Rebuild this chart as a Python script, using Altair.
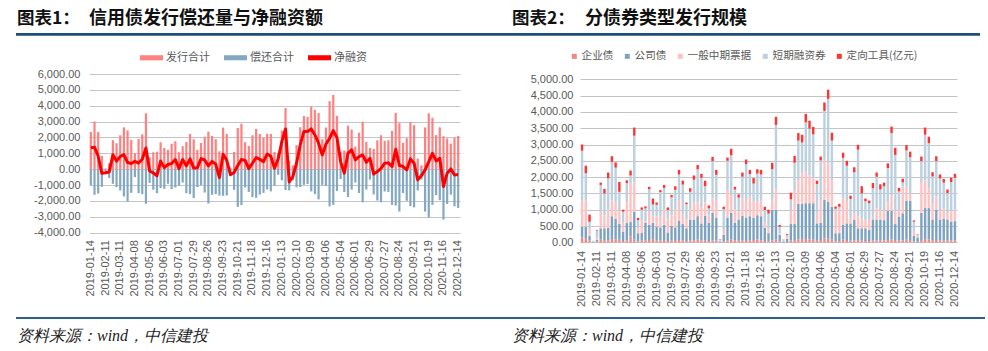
import altair as alt
import pandas as pd

# ---------------- data ----------------
dates = pd.date_range("2019-01-14", periods=101, freq="7D").strftime("%Y-%m-%d").tolist()
tick_labels = dates[::4]

left_series = ["发行合计", "偿还合计", "净融资"]
left_colors = ["#FF8080", "#84A8C2", "#FF0000"]

issuance = [
    2350, 3000, 2350, 850, 50, 380, 1830, 1640, 2140, 2640,
    2450, 1850, 1000, 1900, 2200, 3520, 750, 1070, 1100, 1700,
    1340, 1220, 1600, 1760, 1070, 1450, 1720, 2220, 1890, 1220,
    1660, 2050, 2370, 2100, 1890, 1130, 2620, 2220, 100, 1090,
    2600, 2870, 1700, 1470, 2140, 2540, 2220, 1970, 2240, 2220,
    1090, 1000, 2440, 3850, 530, 250, 1520, 2650, 3350, 3300,
    3940, 3730, 3540, 1890, 2630, 4290, 4680, 3360, 1100, 1180,
    2750, 2500, 1430, 2300, 2990, 1720, 1340, 1280, 1820, 2140,
    1780, 1830, 2420, 3550, 2900, 1670, 1950, 2980, 2780, 670,
    250, 2630, 3520, 3240, 2150, 2640, 2080, 1940, 1620, 1980,
    2100,
]
repayment = [
    -1000, -1610, -1530, -1110, -270, -550, -920, -1130, -1340, -1720,
    -2030, -1490, -500, -1510, -1570, -2180, -860, -1300, -1510, -1190,
    -1240, -920, -1240, -1150, -1030, -840, -1510, -1570, -1820, -1130,
    -990, -1470, -2160, -1610, -1570, -1660, -1680, -1660, -440, -1300,
    -2370, -2260, -1150, -1430, -1760, -1800, -1600, -1490, -1280, -1400,
    -1030, -350, -700, -1310, -1330, -710, -1140, -1120, -980, -930,
    -1400, -1570, -1900, -990, -1060, -2340, -2250, -1370, -620, -1430,
    -1750, -1280, -840, -1500, -2090, -1280, -650, -1590, -1970, -2080,
    -1400, -1430, -2250, -2290, -2670, -1500, -1990, -2330, -2400, -1340,
    -650, -2670, -3040, -2240, -1630, -1950, -3170, -2190, -1600, -2340,
    -2440,
]
net_financing = [
    1350, 1390, 820, -260, -220, -170, 910, 510, 800, 920,
    420, 360, 500, 390, 630, 1340, -110, -230, -410, 510,
    100, 300, 360, 610, 40, 610, 210, 650, 70, 90,
    670, 580, 210, 490, 320, -530, 940, 560, -340, -210,
    230, 610, 550, 40, 380, 740, 620, 480, 960, 820,
    60, 650, 1740, 2540, -800, -460, 380, 1530, 2370, 2370,
    2540, 2160, 1640, 900, 1570, 1950, 2430, 1990, 480, -250,
    1000, 1220, 590, 800, 900, 440, 690, -310, -150, 60,
    380, 400, 170, 1260, 230, 170, -40, 650, 380, -670,
    -400, -40, 480, 1000, 520, 690, -1090, -250, 20, -360,
    -340,
]

right_types = ["企业债", "公司债", "一般中期票据", "短期融资券", "定向工具(亿元)"]
right_colors = ["#F08784", "#7EA3C0", "#FFC2C2", "#BCD0DF", "#FF3333"]

enterprise_bond = [
    150, 110, 60, 0, 20, 80, 70, 60, 100, 90,
    80, 40, 60, 180, 80, 20, 60, 60, 70, 100,
    50, 60, 70, 40, 50, 70, 70, 60, 40, 60,
    60, 80, 60, 50, 40, 60, 60, 0, 20, 60,
    90, 60, 50, 60, 70, 60, 70, 90, 60, 40,
    30, 60, 80, 20, 0, 10, 60, 70, 90, 100,
    100, 90, 80, 50, 70, 120, 110, 80, 30, 40,
    80, 70, 50, 60, 70, 50, 40, 40, 60, 60,
    50, 60, 70, 90, 70, 50, 60, 80, 70, 20,
    10, 70, 100, 90, 60, 70, 60, 50, 50, 60,
    60,
]
company_bond = [
    330, 370, 140, 20, 60, 350, 360, 380, 700, 630,
    490, 290, 530, 440, 850, 260, 230, 540, 470, 500,
    430, 400, 470, 260, 450, 390, 600, 500, 390, 640,
    640, 720, 520, 770, 560, 840, 700, 30, 210, 700,
    820, 540, 650, 760, 690, 740, 690, 740, 740, 410,
    250, 940, 920, 210, 30, 100, 500, 490, 1090, 1080,
    1100, 1110, 1120, 530, 530, 1180, 1140, 1010, 250, 240,
    450, 510, 530, 630, 360, 380, 390, 340, 640, 640,
    650, 620, 900, 880, 490, 740, 830, 1200, 1210, 180,
    140, 830, 950, 960, 640, 930, 640, 680, 650, 580,
    590,
]
general_mtn = [
    820, 790, 200, 10, 60, 550, 400, 560, 480, 520,
    390, 270, 640, 1180, 900, 160, 370, 50, 420, 210,
    320, 320, 460, 400, 330, 540, 630, 300, 270, 300,
    520, 430, 500, 410, 230, 450, 520, 20, 150, 840,
    540, 400, 240, 530, 540, 600, 490, 420, 500, 170,
    120, 300, 650, 50, 10, 60, 410, 1040, 730, 940,
    950, 850, 760, 310, 700, 1230, 1170, 820, 710, 720,
    820, 720, 160, 200, 360, 290, 260, 310, 80, 340,
    290, 270, 250, 480, 380, 200, 820, 430, 220, 150,
    40, 950, 850, 600, 500, 400, 250, 320, 200, 310,
    350,
]
short_term_cp = [
    1510, 850, 230, 20, 220, 780, 670, 960, 1190, 1050,
    590, 340, 590, 250, 1440, 240, 340, 390, 670, 350,
    350, 760, 670, 290, 550, 610, 780, 910, 470, 550,
    700, 1010, 900, 490, 210, 1140, 790, 40, 640, 900,
    1220, 620, 430, 660, 1100, 690, 550, 860, 780, 370,
    480, 940, 1950, 200, 30, 50, 350, 840, 1210, 940,
    1530, 1440, 1350, 900, 1210, 1500, 1980, 1210, 40, 90,
    1240, 1050, 590, 1260, 2050, 780, 570, 510, 880, 970,
    630, 770, 1060, 1900, 1740, 570, 130, 1110, 1110, 280,
    50, 640, 1400, 1390, 820, 1090, 1010, 780, 610, 900,
    980,
]
directed_tools = [
    190, 230, 220, 0, 20, 70, 140, 180, 170, 160,
    300, 60, 80, 150, 250, 70, 70, 60, 70, 180,
    70, 60, 90, 80, 70, 110, 140, 120, 50, 110,
    130, 130, 120, 170, 90, 130, 150, 10, 70, 100,
    200, 80, 100, 130, 140, 130, 170, 130, 140, 100,
    120, 200, 250, 50, 10, 30, 200, 210, 230, 240,
    260, 240, 230, 100, 120, 260, 280, 240, 70, 90,
    160, 150, 100, 150, 150, 220, 80, 80, 160, 130,
    160, 110, 140, 200, 220, 110, 110, 160, 170, 40,
    10, 140, 220, 200, 130, 150, 120, 110, 110, 130,
    120,
]

# ---------------- tables ----------------
left_bars_df = pd.DataFrame({
    "date": dates + dates,
    "series": [left_series[0]] * len(dates) + [left_series[1]] * len(dates),
    "value": issuance + repayment,
})
net_df = pd.DataFrame({"date": dates, "value": net_financing})

right_parts = []
for k, (t, vals) in enumerate(zip(right_types, [enterprise_bond, company_bond, general_mtn,
                                                 short_term_cp, directed_tools])):
    right_parts.append(pd.DataFrame({"date": dates, "type": t, "ord": k, "value": vals}))
right_df = pd.concat(right_parts, ignore_index=True)

dummy = pd.DataFrame({"k": [0]})

GRAY = "#595959"
AXF = "Liberation Sans"
CJK = "Noto Sans CJK SC"
NAVY = "#1F4E79"


def txt(x, y, s, **kw):
    return alt.Chart(dummy).mark_text(align="left", baseline="middle", **kw).encode(
        x=alt.value(x), y=alt.value(y), text=alt.value(s))


def hrule(x1, x2, y, color, w):
    return alt.Chart(dummy).mark_rule(color=color, strokeWidth=w).encode(
        x=alt.value(x1), x2=alt.value(x2), y=alt.value(y))


def x_enc(p_inner, p_outer, pad):
    return alt.X("date:O", title=None, sort=dates,
                 scale=alt.Scale(paddingInner=p_inner, paddingOuter=p_outer),
                 axis=alt.Axis(values=tick_labels, labelAngle=-90, labelPadding=pad,
                               ticks=False, domain=False, grid=False,
                               labelFont=AXF, labelFontSize=11, labelColor=GRAY))


# ---------------- left panel (plot origin at page 89, 74) ----------------
LW, LH = 371, 158.7
xl = x_enc(0.4, 0.2, 7)
yl = alt.Y("value:Q", title=None, stack=None,
           scale=alt.Scale(domain=[-4000, 6000], nice=False, zero=False),
           axis=alt.Axis(values=list(range(-4000, 6001, 1000)), format=",.2f",
                         labelExpr="replace(datum.label, '−', '-')",
                         labelOverlap=False,
                         ticks=False, domain=False, labelPadding=9,
                         gridColor="#C4C4C4", gridWidth=1,
                         labelFont=AXF, labelFontSize=11, labelColor=GRAY))

left_bars = alt.Chart(left_bars_df).mark_bar().encode(
    x=xl, y=yl,
    color=alt.Color("series:N", scale=alt.Scale(domain=left_series, range=left_colors),
                    legend=alt.Legend(title=None, orient="none", legendX=51, legendY=-28,
                                      direction="horizontal", symbolType="M-1,-0.22H1V0.22H-1Z",
                                      symbolSize=529, symbolStrokeWidth=0, padding=0,
                                      labelFont=CJK, labelFontSize=11, labelColor=GRAY,
                                      labelOffset=3, columnPadding=14)),
)
left_line = alt.Chart(net_df).mark_line(color="#FF0000", strokeWidth=3, strokeJoin="round").encode(
    x=xl, y=yl)

left = alt.layer(
    hrule(-88.5, -88, -73.5, "#FFFFFF", 1),   # page top-left corner anchor
    left_bars, left_line,
    txt(-72, -55, "图表1：", font=CJK, fontSize=17.5, fontWeight="bold", color="#111111"),
    txt(0, -55, "信用债发行偿还量与净融资额", font=CJK, fontSize=18, fontWeight="bold", color="#111111"),
    hrule(-73, 405, -39.7, NAVY, 2.7),
    hrule(-73, 405, 244, "#2E5E92", 2),
    txt(-72, 262, "资料来源：wind，中信建投", font="Liberation Serif", fontSize=16,
        fontStyle="italic", color="#222222"),
).properties(width=LW, height=LH)

# ---------------- right panel (plot origin at page 580, 74) ----------------
RW, RH = 377, 168.3
xr = x_enc(0.35, 0.23, 8)
yr = alt.Y("value:Q", title=None, stack="zero",
           scale=alt.Scale(domain=[0, 5163], nice=False, zero=False),
           axis=alt.Axis(values=list(range(0, 5001, 500)), format=",.2f",
                         labelOverlap=False,
                         ticks=False, domain=False, labelPadding=7,
                         gridColor="#C4C4C4", gridWidth=1,
                         labelFont=AXF, labelFontSize=11, labelColor=GRAY))

right_bars = alt.Chart(right_df).mark_bar().encode(
    x=xr, y=yr,
    color=alt.Color("type:N", scale=alt.Scale(domain=right_types, range=right_colors),
                    legend=alt.Legend(title=None, orient="none", legendX=-11, legendY=-23,
                                      direction="horizontal", symbolType="square",
                                      symbolSize=25, symbolStrokeWidth=0, padding=0,
                                      labelFont=CJK, labelFontSize=10.6, labelColor=GRAY,
                                      labelOffset=2, columnPadding=8)),
    order=alt.Order("ord:Q", sort="ascending"),
)

right = alt.layer(
    right_bars,
    txt(-68, -55, "图表2：", font=CJK, fontSize=17.5, fontWeight="bold", color="#111111"),
    txt(5, -55, "分债券类型发行规模", font=CJK, fontSize=18, fontWeight="bold", color="#111111"),
    hrule(-86, 400, -39.7, NAVY, 2.7),
    hrule(-86, 405, 244, "#2E5E92", 2),
    txt(-68, 262, "资料来源：wind，中信建投", font="Liberation Serif", fontSize=16,
        fontStyle="italic", color="#222222"),
    hrule(407, 407.5, 276.5, "#FFFFFF", 1),   # page bottom-right corner anchor
).properties(width=RW, height=RH)

chart = alt.hconcat(left, right, spacing=120, bounds="flush").properties(
    padding=0,
    autosize=alt.AutoSizeParams(type="pad"),
    background="#FFFFFF",
).resolve_scale(color="independent").configure_view(strokeWidth=0)

chart.save("out.html", embed_options={"renderer": "svg", "actions": False})
